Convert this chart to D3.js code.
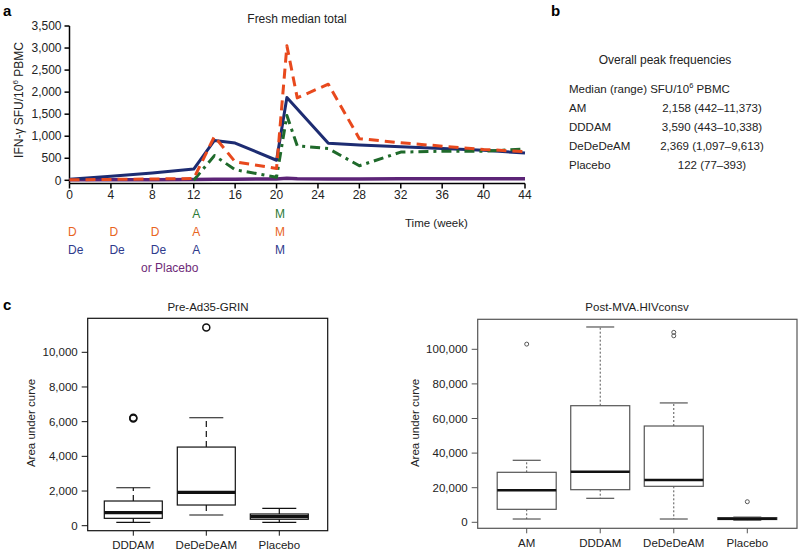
<!DOCTYPE html>
<html><head><meta charset="utf-8">
<script src="https://cdn.jsdelivr.net/npm/d3@7"></script>
<style>body{margin:0;background:#fff}svg{font-family:"Liberation Sans",Arial,Helvetica,sans-serif}</style>
</head><body><svg id="c" width="800" height="552"></svg>
<script>
// ---- Panel a data ----
const navyWeeks   = [0,4,8,12,14,16,20,21,25,28,32,36,40,44];
const navyValues  = [25,90,165,255,905,845,455,1880,840,800,760,720,680,620];
const orangeWeeks = [0,4,8,12,14,16,20,21,22,25,28,32,36,40,44];
const orangeValues= [10,20,30,40,995,420,270,3050,1870,2180,945,850,775,700,650];
const greenWeeks  = [12,14,16,20,21,22,25,28,32,36,40,44];
const greenValues = [0,560,240,70,1470,780,720,330,640,660,660,710];
const purpleWeeks = [0,4,8,12,14,16,20,21,22,25,28,32,36,40,44];
const purpleValues= [10,12,15,20,25,25,30,45,35,30,30,35,35,35,35];
const aXTicks = [0,4,8,12,16,20,24,28,32,36,40,44];
const aYTicks = [0,500,1000,1500,2000,2500,3000,3500];

// ---- Panel b data ----
const bGroups = ["AM","DDDAM","DeDeDeAM","Placebo"];
const bValues = ["2,158 (442\u201311,373)","3,590 (443\u201310,338)","2,369 (1,097\u20139,613)","122 (77\u2013393)"];

// ---- Panel c data ----
const preCats = ["DDDAM","DeDeDeAM","Placebo"];
const preLow  = [195,617,195];
const preQ1   = [425,1193,370];
const preMed  = [750,1925,520];
const preQ3   = [1424,4535,675];
const preHigh = [2190,6225,1000];
const preOut  = [[6225,6180],[11435],[]];
const preTicks = [0,2000,4000,6000,8000,10000];

const postCats = ["AM","DDDAM","DeDeDeAM","Placebo"];
const postLow  = [1900,13870,1900,1200];
const postQ1   = [7500,18850,20800,1600];
const postMed  = [18500,29250,24450,2100];
const postQ3   = [28900,67400,55660,2700];
const postHigh = [35840,112900,69000,3000];
const postOut  = [[103000],[],[109800,107800],[11900]];
const postTicks = [0,20000,40000,60000,80000,100000];

const svg = d3.select("#c");
const fmt = d3.format(",");

// panel letters
[["a",3,16],["b",551,16],["c",3,310]].forEach(([t,x,y])=>
  svg.append("text").attr("x",x).attr("y",y).attr("font-size",15).attr("font-weight","bold").text(t));

// ================= Panel a =================
const ax = d3.scaleLinear().domain([0,44]).range([69.5,525]);
const ay = d3.scaleLinear().domain([0,3500]).range([180.3,26]);
const ga = svg.append("g");
// y axis
ga.append("line").attr("x1",69.5).attr("x2",69.5).attr("y1",ay(3500)).attr("y2",183.5).attr("stroke","#000").attr("stroke-width",1.5);
aYTicks.forEach(v=>{
  ga.append("line").attr("x1",64.5).attr("x2",69.5).attr("y1",ay(v)).attr("y2",ay(v)).attr("stroke","#000").attr("stroke-width",1.5);
  ga.append("text").attr("x",61.5).attr("y",ay(v)).attr("dy","0.35em").attr("text-anchor","end").attr("font-size",12).attr("fill","#222").text(fmt(v));
});
// x axis
ga.append("line").attr("x1",ax(0)).attr("x2",ax(44)).attr("y1",183.5).attr("y2",183.5).attr("stroke","#000").attr("stroke-width",1.5);
aXTicks.forEach(v=>{
  ga.append("line").attr("x1",ax(v)).attr("x2",ax(v)).attr("y1",183.5).attr("y2",188.5).attr("stroke","#000").attr("stroke-width",1.5);
  ga.append("text").attr("x",ax(v)).attr("y",195).attr("dy","0.35em").attr("text-anchor","middle").attr("font-size",12).attr("fill","#222").text(v);
});
ga.append("text").attr("x",297).attr("y",19).attr("dy","0.35em").attr("text-anchor","middle").attr("font-size",12).attr("fill","#222").text("Fresh median total");
ga.append("text").attr("transform","translate(19,100) rotate(-90)").attr("dy","0.35em").attr("text-anchor","middle").attr("font-size",12).attr("fill","#222")
  .html('IFN-\u03b3 SFU/10<tspan dy="-5" font-size="8">6</tspan><tspan dy="5"> PBMC</tspan>');

const line = d3.line().x(d=>ax(d[0])).y(d=>ay(d[1]));
function drawSeries(w,v,color,dash,width){
  ga.append("path").datum(w.map((x,i)=>[x,v[i]])).attr("d",line).attr("fill","none")
    .attr("stroke",color).attr("stroke-width",width).attr("stroke-dasharray",dash).attr("stroke-linejoin","round");
}
drawSeries(purpleWeeks,purpleValues,"#5c2477",null,3.5);
drawSeries(navyWeeks,navyValues,"#1d2c72",null,3);
drawSeries(greenWeeks,greenValues,"#1f6a2b","10,5,3,5",3);
drawSeries(orangeWeeks,orangeValues,"#e8491d","10,6",3);

// schedule annotations
const cGreen="#2c7a36", cOrange="#e8641e", cNavy="#2e3a8c", cPurple="#6e2a78";
const ann = [
  ["A",12,214,cGreen],["M",20,214,cGreen],
  ["D",0,232,cOrange],["D",4,232,cOrange],["D",8,232,cOrange],["A",12,232,cOrange],["M",20,232,cOrange],
  ["De",0,250,cNavy],["De",4,250,cNavy],["De",8,250,cNavy],["A",12,250,cNavy],["M",20,250,cNavy]
];
ann.forEach(([t,w,y,c])=>ga.append("text").attr("x",ax(w)-1.5).attr("y",y).attr("dy","0.35em").attr("font-size",12).attr("fill",c).text(t));
ga.append("text").attr("x",141).attr("y",268).attr("dy","0.35em").attr("font-size",12).attr("fill",cPurple).text("or Placebo");
ga.append("text").attr("x",405).attr("y",223).attr("dy","0.35em").attr("font-size",11.5).attr("fill","#222").text("Time (week)");

// ================= Panel b =================
const gb = svg.append("g");
gb.append("text").attr("x",665).attr("y",60).attr("dy","0.35em").attr("text-anchor","middle").attr("font-size",12).attr("fill","#222").text("Overall peak frequencies");
gb.append("text").attr("x",569).attr("y",89).attr("dy","0.35em").attr("font-size",11.5).attr("fill","#222")
  .html('Median (range) SFU/10<tspan dy="-5" font-size="7.5">6</tspan><tspan dy="5"> PBMC</tspan>');
bGroups.forEach((g,i)=>{
  const y = 108 + i*18.9;
  gb.append("text").attr("x",569).attr("y",y).attr("dy","0.35em").attr("font-size",11.5).attr("fill","#222").text(g);
  gb.append("text").attr("x",712).attr("y",y).attr("dy","0.35em").attr("text-anchor","middle").attr("font-size",11.5).attr("fill","#222").text(bValues[i]);
});

// ================= Panel c =================
function boxPanel(o){
  const g = svg.append("g");
  const x = d3.scalePoint().domain(o.cats).range(o.xr);
  const y = d3.scaleLinear().domain(o.dom).range(o.yr);
  g.append("rect").attr("x",o.frame[0]).attr("y",o.frame[1]).attr("width",o.frame[2]-o.frame[0]).attr("height",o.frame[3]-o.frame[1])
    .attr("fill","none").attr("stroke",o.col).attr("stroke-width",1.2);
  o.ticks.forEach(v=>{
    g.append("line").attr("x1",o.frame[0]-6).attr("x2",o.frame[0]).attr("y1",y(v)).attr("y2",y(v)).attr("stroke",o.col);
    g.append("text").attr("x",o.frame[0]-10).attr("y",y(v)).attr("dy","0.35em").attr("text-anchor","end").attr("font-size",11.5).attr("fill","#222").text(fmt(v));
  });
  o.cats.forEach((c,i)=>{
    const cx = x(c), hw=o.bw/2, cw=o.cw/2;
    g.append("line").attr("x1",cx).attr("x2",cx).attr("y1",o.frame[3]).attr("y2",o.frame[3]+5).attr("stroke",o.col);
    g.append("text").attr("x",cx).attr("y",o.labY).attr("dy","0.35em").attr("text-anchor","middle").attr("font-size",11.5).attr("fill","#222").text(c);
    // whiskers
    g.append("line").attr("x1",cx).attr("x2",cx).attr("y1",y(o.q3[i])).attr("y2",y(o.hi[i])).attr("stroke",o.col).attr("stroke-dasharray",o.wdash).attr("stroke-width",o.wlw);
    g.append("line").attr("x1",cx).attr("x2",cx).attr("y1",y(o.q1[i])).attr("y2",y(o.lo[i])).attr("stroke",o.col).attr("stroke-dasharray",o.wdash).attr("stroke-width",o.wlw);
    g.append("line").attr("x1",cx-cw).attr("x2",cx+cw).attr("y1",y(o.hi[i])).attr("y2",y(o.hi[i])).attr("stroke",o.col).attr("stroke-width",1.2);
    g.append("line").attr("x1",cx-cw).attr("x2",cx+cw).attr("y1",y(o.lo[i])).attr("y2",y(o.lo[i])).attr("stroke",o.col).attr("stroke-width",1.2);
    g.append("rect").attr("x",cx-hw).attr("y",y(o.q3[i])).attr("width",o.bw).attr("height",Math.max(1,y(o.q1[i])-y(o.q3[i])))
      .attr("fill","#fff").attr("stroke",o.col).attr("stroke-width",1.2);
    g.append("line").attr("x1",cx-hw).attr("x2",cx+hw).attr("y1",y(o.med[i])).attr("y2",y(o.med[i])).attr("stroke","#111").attr("stroke-width",o.mlw);
    o.out[i].forEach(v=>g.append("circle").attr("cx",cx).attr("cy",y(v)).attr("r",o.r).attr("fill","none").attr("stroke",o.col).attr("stroke-width",o.olw));
  });
  g.append("text").attr("x",o.titleX).attr("y",307).attr("dy","0.35em").attr("text-anchor","middle").attr("font-size",11.5).attr("fill","#222").text(o.title);
  g.append("text").attr("transform",`translate(${o.ylabX},423) rotate(-90)`).attr("dy","0.35em").attr("text-anchor","middle").attr("font-size",11.5).attr("fill","#222").text("Area under curve");
}
boxPanel({cats:preCats,lo:preLow,q1:preQ1,med:preMed,q3:preQ3,hi:preHigh,out:preOut,ticks:preTicks,
  dom:[0,10000],yr:[525.7,352.3],xr:[133.3,279.3],frame:[87.7,318.3,327.7,530.7],bw:58,cw:34,
  col:"#111",wdash:"6,4",wlw:1.2,mlw:3.2,r:3.5,olw:1.5,labY:545,title:"Pre-Ad35-GRIN",titleX:208,ylabX:31});
boxPanel({cats:postCats,lo:postLow,q1:postQ1,med:postMed,q3:postQ3,hi:postHigh,out:postOut,ticks:postTicks,
  dom:[0,100000],yr:[522.3,349.3],xr:[526.7,747.3],frame:[477.7,319.3,797,528.3],bw:59,cw:28,
  col:"#555",wdash:"2,2",wlw:1,mlw:2.5,r:2,olw:1,labY:542.5,title:"Post-MVA.HIVconsv",titleX:637,ylabX:415});
</script></body></html>
